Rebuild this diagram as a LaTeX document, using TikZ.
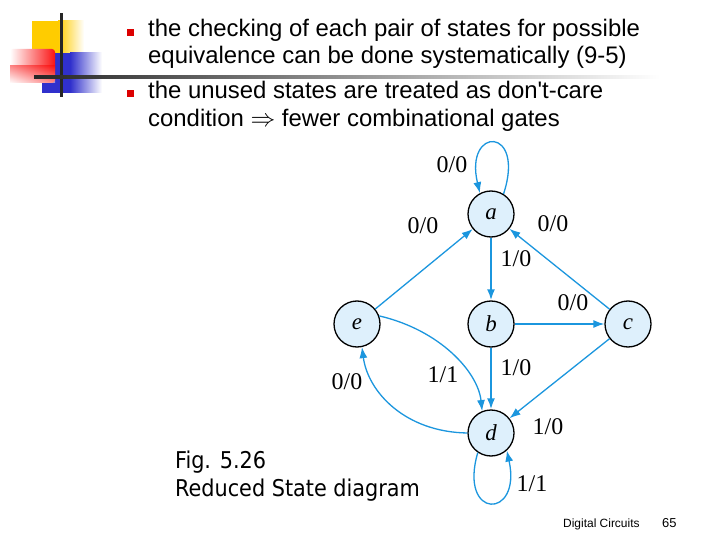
\documentclass[tikz,border=0pt]{standalone}
\usepackage{fontspec}
\setmainfont{Liberation Sans}
\newfontfamily\bodyfont{Liberation Sans}
\newfontfamily\serifont{Liberation Serif}
\newfontfamily\figfont{DejaVu Sans Condensed}
\usepackage{tikz}
\usetikzlibrary{arrows.meta,positioning,calc}
\usepackage{xcolor}
\definecolor{statefill}{RGB}{222,240,252}
\definecolor{edgeblue}{RGB}{27,150,222}
\definecolor{logoyellow}{RGB}{255,204,0}
\definecolor{logoblue}{RGB}{48,48,204}
\definecolor{logored}{RGB}{250,20,20}
\definecolor{bulletred}{RGB}{220,0,0}

\tikzset{
  state/.style={circle,draw=black,line width=1.3bp,fill=statefill,
    minimum size=46bp,inner sep=0pt,font=\serifont\itshape\fontsize{23}{23}\selectfont},
  edge/.style={draw=edgeblue,line width=1.3bp,-{Latex[length=11bp,width=8bp]}},
  thickedge/.style={edge,line width=2bp},
  elabel/.style={font=\serifont\fontsize{24}{24}\selectfont,inner sep=0pt},
  bodytext/.style={anchor=base west,inner sep=0pt,font=\bodyfont\fontsize{24}{24}\selectfont},
  figtext/.style={anchor=base west,inner sep=0pt,font=\figfont\fontsize{23.2}{23.2}\selectfont},
  foottext/.style={anchor=base west,inner sep=0pt,font=\fontsize{12}{12}\selectfont}
}

\begin{document}
\begin{tikzpicture}[x=1bp,y=-1bp]
\useasboundingbox[fill=white] (0,0) rectangle (720,540);

% logo
\fill[logoyellow] (32,21) rectangle (58,56);
\shade[left color=logoyellow,right color=white] (58,21) rectangle (84,56);
\fill[logoblue] (42,53) rectangle (70,93);
\shade[left color=logoblue,right color=white] (70,53) rectangle (102,93);
\shade[left color=white,right color=logored,rounded corners=3bp] (10,49) rectangle (55,83);
\shade[top color=white!0!logored,bottom color=white,opacity=0.5] (10,66) rectangle (55,83);
\fill[black!85] (59.5,13) rectangle (62.5,97);
\shade[left color=black!85,right color=white] (34,75.5) rectangle (660,78.5);

% bullets
\fill[bulletred] (127,29) rectangle (134,36);
\fill[bulletred] (127,90) rectangle (134,97);
\node[bodytext] (l1) at (148,37) {the checking of each pair of states for possible};
\node[bodytext] (l2) at (148,64) {equivalence can be done systematically (9-5)};
\node[bodytext] (l3) at (148,99) {the unused states are treated as don't-care};
\node[bodytext] (l4) at (148,127) {condition $\Rightarrow$ fewer combinational gates};

% states
\node[state] (a) at (491,214) {a};
\node[state] (b) at (491,324) {b};
\node[state] (c) at (628,324) {c};
\node[state] (e) at (357,324) {e};
\node[state] (d) at (491,433) {d};

% transitions
\draw[edge] (a.58) .. controls (526,126) and (464,126) .. (a.118)
  node[elabel] at (452,165) {0/0};
\draw[edge] (e) -- (a) node[elabel] at (423,226) {0/0};
\draw[edge] (c) -- (a) node[elabel] at (553,224) {0/0};
\draw[thickedge] (a) -- (b) node[elabel] at (516,259) {1/0};
\draw[edge] (b) -- (c) node[elabel] at (573,303) {0/0};
\draw[thickedge] (b) -- (d) node[elabel] at (516,368) {1/0};
\draw[edge] (c) -- (d) node[elabel] at (548,427) {1/0};
\draw[edge] (e.20) .. controls (440,330) and (478,372) .. (d.112)
  node[elabel] at (443,375) {1/1};
\draw[edge] (d.180) .. controls (405,432) and (368,392) .. (e.282)
  node[elabel] at (347,382) {0/0};
\draw[edge] (d.236) .. controls (458,520) and (522,520) .. (d.312)
  node[elabel] at (532,484) {1/1};

% caption
\node[figtext] (fig) at (175,468) {Fig. 5.26};
\node[figtext] (cap) at (175,496) {Reduced State diagram};
\node[foottext] (foot) at (563,527) {Digital Circuits};
\node[foottext,font=\fontsize{13}{13}\selectfont] (page) at (662,527) {65};
\end{tikzpicture}
\end{document}
